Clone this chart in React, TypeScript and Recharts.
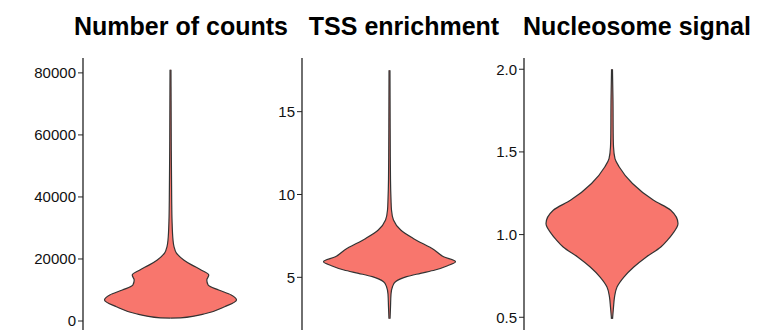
import { ComposedChart, Area, XAxis, YAxis } from 'recharts';

// violin outlines: level -> half width (1 = widest point)
const countsLevels = [950, 1000, 2500, 4600, 6800, 8400, 10000, 11600, 13200, 14800, 16400, 18100, 19700, 21900, 24000, 26100, 32600, 39000, 55000, 71000, 81000];
const countsDensity = [0, 0.15, 0.55, 0.82, 1.0, 0.92, 0.73, 0.57, 0.55, 0.58, 0.47, 0.32, 0.2, 0.09, 0.053, 0.038, 0.023, 0.018, 0.012, 0.009, 0.007];
const countsTicks = [0, 20000, 40000, 60000, 80000];

const tssLevels = [2.5, 3.2, 4.0, 4.43, 4.73, 5.04, 5.24, 5.44, 5.7, 5.94, 6.24, 6.65, 7.35, 7.86, 8.46, 9.06, 9.67, 10.9, 14, 17.5];
const tssDensity = [0.008, 0.015, 0.023, 0.045, 0.09, 0.26, 0.47, 0.69, 0.88, 1.0, 0.82, 0.68, 0.36, 0.17, 0.06, 0.03, 0.023, 0.015, 0.01, 0.007];
const tssTicks = [5, 10, 15];

const nucLevels = [0.49, 0.562, 0.622, 0.683, 0.743, 0.804, 0.865, 0.925, 0.966, 1.006, 1.067, 1.147, 1.207, 1.309, 1.409, 1.46, 1.53, 1.61, 1.81, 2.0];
const nucDensity = [0.008, 0.023, 0.038, 0.076, 0.18, 0.33, 0.52, 0.74, 0.84, 0.92, 1.0, 0.89, 0.63, 0.31, 0.11, 0.045, 0.023, 0.018, 0.015, 0.007];
const nucTicks = [0.5, 1.0, 1.5, 2.0];

const titles = ['Number of counts', 'TSS enrichment', 'Nucleosome signal'];

const FONT = '"Liberation Sans", Arial, Helvetica, sans-serif';
const AXIS = '#222222';

const toRows = (levels: number[], density: number[]) =>
  levels.map((v, i) => ({ v, range: [-density[i], density[i]] }));

interface ViolinProps {
  rows: { v: number; range: number[] }[];
  left: number;
  yWidth: number;
  plotWidth: number;
  domain: [number, number];
  ticks: number[];
  fmt?: (v: number) => string;
}

function Violin({ rows, left, yWidth, plotWidth, domain, ticks, fmt }: ViolinProps) {
  const half = plotWidth / 2 / 66;
  return (
    <div style={{ position: 'absolute', left, top: 0 }}>
      <ComposedChart
        layout="vertical"
        width={yWidth + plotWidth + 4}
        height={331}
        data={rows}
        margin={{ top: 58, right: 4, bottom: 1, left: 0 }}
      >
        <XAxis
          type="number"
          domain={[-half, half]}
          allowDataOverflow
          tick={false}
          tickLine={false}
          height={0}
          axisLine={{ stroke: AXIS, strokeWidth: 1.3 }}
        />
        <YAxis
          type="number"
          dataKey="v"
          domain={domain}
          reversed
          allowDataOverflow
          ticks={ticks}
          interval={0}
          width={yWidth}
          tickSize={5}
          tickFormatter={fmt}
          tick={{ fontSize: 15, fill: '#111111', fontFamily: FONT }}
          tickLine={{ stroke: AXIS }}
          axisLine={{ stroke: AXIS, strokeWidth: 1.3 }}
        />
        <Area
          dataKey="range"
          type="monotone"
          fill="#F8766D"
          fillOpacity={1}
          stroke="#333333"
          strokeWidth={1.2}
          dot={false}
          activeDot={false}
          isAnimationActive={false}
        />
      </ComposedChart>
    </div>
  );
}

export default function App() {
  return (
    <div style={{ position: 'absolute', left: 0, top: 0, width: 763, height: 331, background: '#fff', fontFamily: FONT }}>
      <svg width={763} height={50} style={{ position: 'absolute', left: 0, top: 0 }}>
        {titles.map((t, i) => (
          <text key={t} x={[181, 404, 637][i]} y={35} textAnchor="middle" fontSize={25} fontWeight="bold" fill="#000" fontFamily={FONT}>
            {t}
          </text>
        ))}
      </svg>
      <Violin rows={toRows(countsLevels, countsDensity)} left={0} yWidth={83} plotWidth={175} domain={[-2900, 84800]} ticks={countsTicks} />
      <Violin rows={toRows(tssLevels, tssDensity)} left={230} yWidth={72} plotWidth={175} domain={[1.82, 18.24]} ticks={tssTicks} />
      <Violin rows={toRows(nucLevels, nucDensity)} left={490} yWidth={34} plotWidth={176} domain={[0.423, 2.068]} ticks={nucTicks} fmt={(v) => v.toFixed(1)} />
    </div>
  );
}
